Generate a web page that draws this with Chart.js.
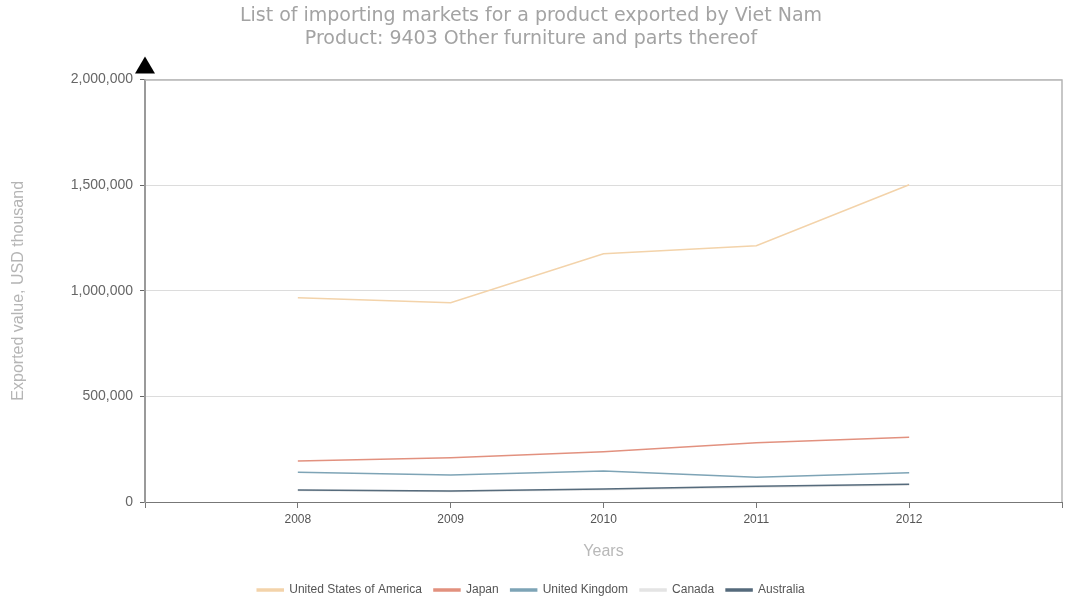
<!DOCTYPE html>
<html>
<head>
<meta charset="utf-8">
<title>Importing markets for Viet Nam furniture</title>
<script src="https://cdn.jsdelivr.net/npm/chart.js@4/dist/chart.umd.min.js"></script>
<style>
  html, body { margin: 0; padding: 0; background: #fff; }
  #wrap { width: 1066px; height: 599px; }
</style>
</head>
<body>
<div id="wrap"><canvas id="chart" width="1066" height="599"></canvas></div>
<script>
// Exported value, USD thousand
const years = [2008, 2009, 2010, 2011, 2012];
const usa = [967000, 943000, 1175000, 1213000, 1502000];
const japan = [194000, 210000, 238000, 281000, 307000];
const uk = [141000, 128000, 147000, 117000, 139000];
const canada = [54000, 50000, 58000, 70000, 80000];
const australia = [57000, 52000, 62000, 74000, 84000];
const yTicks = [0, 500000, 1000000, 1500000, 2000000];

const titleLines = [
    'List of importing markets for a product exported by Viet Nam',
    'Product: 9403 Other furniture and parts thereof'
];

function toPoints(values) {
    return years.map((yr, i) => ({ x: yr, y: values[i] }));
}

function series(label, values, color, order) {
    return {
        label: label,
        data: toPoints(values),
        borderColor: color,
        backgroundColor: color,
        borderWidth: 1.5,
        pointRadius: 0,
        tension: 0,
        order: order || 0
    };
}

// top/right frame and the arrow head on the value axis
const framePlugin = {
    id: 'frame',
    afterDraw(chart) {
        const { ctx, chartArea: a } = chart;
        ctx.save();
        ctx.strokeStyle = '#b5b5b5';
        ctx.lineWidth = 1.5;
        ctx.beginPath();
        ctx.moveTo(a.left, a.top + 0.5);
        ctx.lineTo(a.right, a.top + 0.5);
        ctx.lineTo(a.right, a.bottom);
        ctx.stroke();

        ctx.fillStyle = '#000';
        ctx.beginPath();
        ctx.moveTo(a.left, a.top - 23);
        ctx.lineTo(a.left - 10, a.top - 6);
        ctx.lineTo(a.left + 10, a.top - 6);
        ctx.closePath();
        ctx.fill();
        ctx.restore();
    }
};

new Chart(document.getElementById('chart'), {
    type: 'line',
    data: {
        datasets: [
            series('United States of America', usa, '#f3d3aa'),
            series('Japan', japan, '#e2917f'),
            series('United Kingdom', uk, '#7ea4b6'),
            series('Canada', canada, '#e4e4e4', 5),
            series('Australia', australia, '#566b7c')
        ]
    },
    options: {
        responsive: false,
        animation: false,
        devicePixelRatio: 1,
        layout: { padding: { left: 0, right: 4, top: 0, bottom: -7 } },
        plugins: {
            title: {
                display: true,
                text: titleLines,
                color: '#a3a3a3',
                font: { family: 'DejaVu Sans', size: 19, weight: 'normal', lineHeight: 1.2 },
                padding: { top: 5, bottom: 29 }
            },
            legend: {
                position: 'bottom',
                labels: {
                    sort: (a, b) => a.datasetIndex - b.datasetIndex,
                    boxWidth: 26,
                    boxHeight: 2,
                    padding: 12,
                    color: '#555',
                    font: { family: 'Liberation Sans', size: 12 }
                }
            },
            tooltip: { enabled: false }
        },
        scales: {
            x: {
                type: 'linear',
                min: 2007,
                max: 2013,
                ticks: {
                    stepSize: 1,
                    color: '#555',
                    padding: 4,
                    maxRotation: 0,
                    font: { family: 'Liberation Sans', size: 12 },
                    callback: v => (v >= years[0] && v <= years[years.length - 1]) ? String(v) : ''
                },
                grid: { drawOnChartArea: false, tickLength: 6, tickColor: '#777' },
                border: { color: '#777', width: 1 },
                title: {
                    display: true,
                    text: 'Years',
                    color: '#b8b8b8',
                    font: { family: 'Liberation Sans', size: 16 },
                    padding: { top: 0, bottom: 11 }
                },
                afterFit: scale => { scale.height = 70; }
            },
            y: {
                min: 0,
                max: 2000000,
                afterBuildTicks: scale => { scale.ticks = yTicks.map(v => ({ value: v })); },
                ticks: {
                    color: '#666',
                    padding: 7,
                    font: { family: 'Liberation Sans', size: 14 },
                    callback: v => v.toLocaleString('en-US')
                },
                grid: { color: '#dcdcdc', tickLength: 5, tickColor: '#666' },
                border: { color: '#9a9a9a', width: 2 },
                title: {
                    display: true,
                    text: 'Exported value, USD thousand',
                    color: '#b5b5b5',
                    font: { family: 'Liberation Sans', size: 16 },
                    padding: { top: 9, bottom: 0 }
                },
                afterFit: scale => { scale.width = 145; }
            }
        }
    },
    plugins: [framePlugin]
});
</script>
</body>
</html>
